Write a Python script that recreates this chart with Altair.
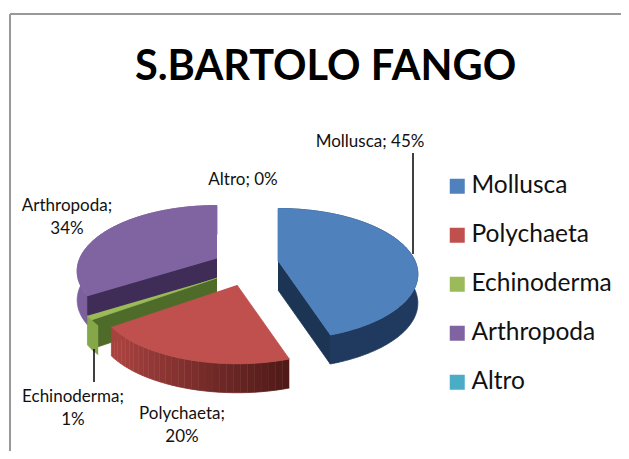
import math
import altair as alt
import pandas as pd

categories = ["Mollusca", "Polychaeta", "Echinoderma", "Arthropoda", "Altro"]
shares = [45, 20, 1, 34, 0]
colors = ["#4F81BD", "#C0504D", "#9BBB59", "#8064A2", "#4BACC6"]
title_text = "S.BARTOLO FANGO"
label_lines = [
    ("Mollusca; 45%", 370, 142), ("Altro; 0%", 243, 180),
    ("Arthropoda;", 67, 206), ("34%", 67, 229),
    ("Echinoderma;", 73, 397), ("1%", 73, 420),
    ("Polychaeta;", 182, 414), ("20%", 182, 437),
]
# slice anchor on the page for each exploded wedge
centres = {"Mollusca": (278, 261), "Polychaeta": (237, 285), "Echinoderma": (217, 278), "Arthropoda": (217, 258)}

RX, RY, K, DEPTH = 137, 63, 0.2, 29


def project(theta, c):
    u, v = math.sin(theta), -math.cos(theta)
    s = 1 / (1 - K * v)
    return c[0] + RX * u * s, c[1] + RY * v * s


def arc(a, b, c):
    n = max(2, int(abs(b - a) * 60))
    return [project(a + (b - a) * i / n, c) for i in range(n + 1)]


rows, gid = [], 0


def poly(points, colour):
    global gid
    gid += 1
    for i, (x, y) in enumerate(points):
        rows.append({"g": f"{gid:04d}", "i": i, "x": x, "y": y, "c": colour})


def shift(points):
    return [(x, y + DEPTH) for x, y in points]


def mix(a, b, t):
    pa = [int(a[i:i + 2], 16) for i in (1, 3, 5)]
    pb = [int(b[i:i + 2], 16) for i in (1, 3, 5)]
    return "#" + "".join(f"{round(p + (q - p) * t):02x}" for p, q in zip(pa, pb))


angles, acc = {}, 0
for name, share in zip(categories, shares):
    angles[name] = (acc / 100 * 2 * math.pi, (acc + share) / 100 * 2 * math.pi)
    acc += share

# Arthropoda
a, b = angles["Arthropoda"]
c = centres["Arthropoda"]
rim = arc(a, b, c)
poly(rim + shift(rim)[::-1], "#7c609e")
poly([c, rim[0], (rim[0][0], rim[0][1] + DEPTH), (c[0], c[1] + DEPTH)], "#3f2d58")
poly([c] + rim, colors[3])
# Echinoderma
a, b = angles["Echinoderma"]
c = centres["Echinoderma"]
rim = arc(a, b, c)
poly([c, rim[0], (rim[0][0], rim[0][1] + DEPTH), (c[0], c[1] + DEPTH)], "#4f6b2a")
outer = arc(a - 0.09, b, c)
poly(outer + shift(outer)[::-1], "#86a64a")
poly([c] + rim, colors[2])
# Polychaeta
a, b = angles["Polychaeta"]
c = centres["Polychaeta"]
strips = 30
for j in range(strips):
    t1 = a + (b - a) * j / strips
    t2 = a + (b - a) * (j + 1) / strips
    s = [project(t1, c), project(t2, c)]
    f = j / (strips - 1)
    col = mix("#4f1a18", "#a8423f", min(1, f * 1.1))
    poly(s + shift(s)[::-1], col)
poly([c] + arc(a, b, c), colors[1])
# Mollusca
a, b = angles["Mollusca"]
c = centres["Mollusca"]
rim = arc(a, b, c)
poly(rim + shift(rim)[::-1], "#1f3a5e")
poly([c, rim[-1], (rim[-1][0], rim[-1][1] + DEPTH), (c[0], c[1] + DEPTH)], "#1c3554")
poly([c] + rim, colors[0])

X = alt.X("x:Q", scale=alt.Scale(domain=[8, 621]), axis=None)
Y = alt.Y("y:Q", scale=alt.Scale(domain=[451, 8]), axis=None)

wedges = (
    alt.Chart(pd.DataFrame(rows))
    .mark_line(strokeWidth=0.8, interpolate="linear")
    .encode(
        x=X, y=Y, detail="g:N", order="i:Q",
        fill=alt.Fill("c:N", scale=None, legend=None),
        stroke=alt.Stroke("c:N", scale=None, legend=None),
    )
)

frame_top = alt.Chart(pd.DataFrame({"x": [10], "x2": [621], "y": [14]})).mark_rule(color="#999999", strokeWidth=2).encode(x=X, x2="x2:Q", y=Y)
frame_left = alt.Chart(pd.DataFrame({"x": [10], "y": [14], "y2": [451]})).mark_rule(color="#999999", strokeWidth=2).encode(x=X, y=Y, y2="y2:Q")

leaders = alt.Chart(pd.DataFrame({"x": [413, 94], "y": [153, 349], "y2": [254, 382]})).mark_rule(color="#000000", strokeWidth=1.5).encode(x=X, y=Y, y2="y2:Q")

labels = (
    alt.Chart(pd.DataFrame(label_lines, columns=["t", "x", "y"]))
    .mark_text(font="Lato", fontSize=17, color="#111111", align="center", baseline="middle")
    .encode(x=X, y=Y, text="t:N")
)

legend_df = pd.DataFrame({"cat": categories, "x": [456] * 5, "y": [185] * 5})
legend_layer = (
    alt.Chart(legend_df)
    .mark_square(size=0)
    .encode(
        x=X, y=Y,
        color=alt.Color(
            "cat:N",
            scale=alt.Scale(domain=categories, range=colors),
            sort=categories,
            legend=alt.Legend(
                title=None, orient="none", legendX=437, legendY=166,
                symbolType="square", symbolSize=225, symbolOpacity=1,
                labelFont="Lato", labelFontSize=24.5, labelColor="#111111",
                rowPadding=24, labelOffset=2, labelLimit=200,
            ),
        ),
    )
)

chart = (
    alt.layer(frame_top, frame_left, wedges, leaders, labels, legend_layer)
    .properties(
        width=613, height=443, padding=0,
        autosize=alt.AutoSizeParams(type="none"),
        title=alt.TitleParams(title_text, font="Lato", fontSize=41.5, fontWeight="bold", color="#000000",
                              anchor="start", offset=-80, dx=127),
    )
    .configure_view(stroke=None)
)

chart.save("out.html", embed_options={"renderer": "svg", "actions": False})
